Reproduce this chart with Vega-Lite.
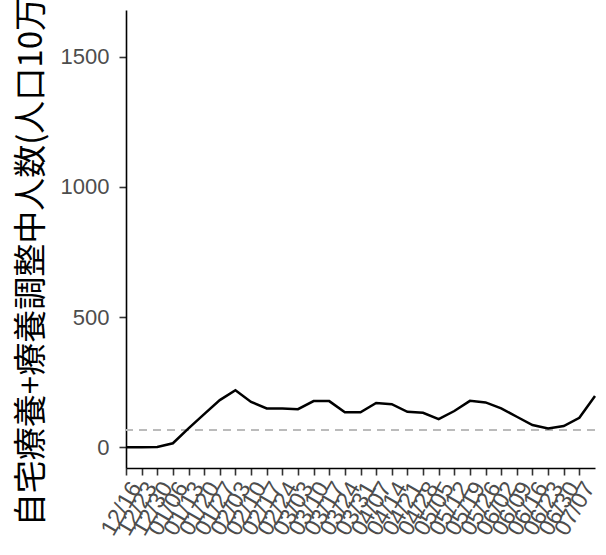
{
  "$schema": "https://vega.github.io/schema/vega-lite/v6.json",
  "width": 469,
  "height": 458,
  "autosize": "none",
  "padding": {"left": 126, "top": 10, "right": 11, "bottom": 87},
  "background": "white",
  "config": {"view": {"stroke": null}},
  "datasets": {
    "series": [
      {"date": "2020/12/16", "value": 0},
      {"date": "2020/12/23", "value": 0},
      {"date": "2020/12/30", "value": 1},
      {"date": "2021/01/06", "value": 15},
      {"date": "2021/01/13", "value": 72},
      {"date": "2021/01/20", "value": 127},
      {"date": "2021/01/27", "value": 181},
      {"date": "2021/02/03", "value": 219},
      {"date": "2021/02/10", "value": 174},
      {"date": "2021/02/17", "value": 149},
      {"date": "2021/02/24", "value": 149},
      {"date": "2021/03/03", "value": 146},
      {"date": "2021/03/10", "value": 177},
      {"date": "2021/03/17", "value": 177},
      {"date": "2021/03/24", "value": 134},
      {"date": "2021/03/31", "value": 134},
      {"date": "2021/04/07", "value": 170},
      {"date": "2021/04/14", "value": 165},
      {"date": "2021/04/21", "value": 136},
      {"date": "2021/04/28", "value": 132},
      {"date": "2021/05/05", "value": 108},
      {"date": "2021/05/12", "value": 139},
      {"date": "2021/05/19", "value": 178},
      {"date": "2021/05/26", "value": 172},
      {"date": "2021/06/02", "value": 149},
      {"date": "2021/06/09", "value": 117},
      {"date": "2021/06/16", "value": 85},
      {"date": "2021/06/23", "value": 72},
      {"date": "2021/06/30", "value": 81},
      {"date": "2021/07/07", "value": 113},
      {"date": "2021/07/14", "value": 197}
    ],
    "threshold": [{"level": 66}]
  },
  "layer": [
    {
      "data": {"name": "threshold"},
      "mark": {"type": "rule", "color": "#BBBBBB", "strokeWidth": 2.2, "strokeDash": [8, 6]},
      "encoding": {"y": {"field": "level", "type": "quantitative"}}
    },
    {
      "data": {"name": "series"},
      "mark": {"type": "line", "color": "black", "strokeWidth": 2.5},
      "encoding": {
        "x": {
          "field": "date",
          "type": "temporal",
          "scale": {
            "domain": [{"year": 2020, "month": 12, "date": 16}, {"year": 2021, "month": 7, "date": 14}],
            "nice": false
          },
          "axis": {
            "title": null,
            "values": [
              {"year": 2020, "month": 12, "date": 16},
              {"year": 2020, "month": 12, "date": 23},
              {"year": 2020, "month": 12, "date": 30},
              {"year": 2021, "month": 1, "date": 6},
              {"year": 2021, "month": 1, "date": 13},
              {"year": 2021, "month": 1, "date": 20},
              {"year": 2021, "month": 1, "date": 27},
              {"year": 2021, "month": 2, "date": 3},
              {"year": 2021, "month": 2, "date": 10},
              {"year": 2021, "month": 2, "date": 17},
              {"year": 2021, "month": 2, "date": 24},
              {"year": 2021, "month": 3, "date": 3},
              {"year": 2021, "month": 3, "date": 10},
              {"year": 2021, "month": 3, "date": 17},
              {"year": 2021, "month": 3, "date": 24},
              {"year": 2021, "month": 3, "date": 31},
              {"year": 2021, "month": 4, "date": 7},
              {"year": 2021, "month": 4, "date": 14},
              {"year": 2021, "month": 4, "date": 21},
              {"year": 2021, "month": 4, "date": 28},
              {"year": 2021, "month": 5, "date": 5},
              {"year": 2021, "month": 5, "date": 12},
              {"year": 2021, "month": 5, "date": 19},
              {"year": 2021, "month": 5, "date": 26},
              {"year": 2021, "month": 6, "date": 2},
              {"year": 2021, "month": 6, "date": 9},
              {"year": 2021, "month": 6, "date": 16},
              {"year": 2021, "month": 6, "date": 23},
              {"year": 2021, "month": 6, "date": 30},
              {"year": 2021, "month": 7, "date": 7}
            ],
            "format": "%m/%d",
            "labelAngle": -60,
            "labelAlign": "right",
            "labelBaseline": "top",
            "labelOverlap": false,
            "labelFlush": false,
            "labelFont": "Liberation Sans",
            "labelFontSize": 23,
            "labelColor": "#4D4D4D",
            "labelPadding": 3,
            "domainColor": "black",
            "domainWidth": 1.6,
            "tickColor": "#333333",
            "tickWidth": 1.6,
            "tickSize": 7,
            "grid": false
          }
        },
        "y": {
          "field": "value",
          "type": "quantitative",
          "scale": {"domain": [-80, 1680], "nice": false, "zero": false},
          "axis": {
            "title": "自宅療養+療養調整中人数(人口10万人あたり)",
            "titleFont": "Noto Sans CJK JP",
            "titleFontSize": 33,
            "titleFontWeight": "normal",
            "titleColor": "black",
            "titleX": -95,
            "titleY": 180,
            "titleAngle": -90,
            "titleAlign": "center",
            "titleBaseline": "middle",
            "values": [0, 500, 1000, 1500],
            "format": "d",
            "labelFont": "Liberation Sans",
            "labelFontSize": 22,
            "labelColor": "#4D4D4D",
            "labelPadding": 10,
            "domainColor": "black",
            "domainWidth": 1.6,
            "tickColor": "#333333",
            "tickWidth": 1.6,
            "tickSize": 7,
            "grid": false
          }
        }
      }
    }
  ]
}
